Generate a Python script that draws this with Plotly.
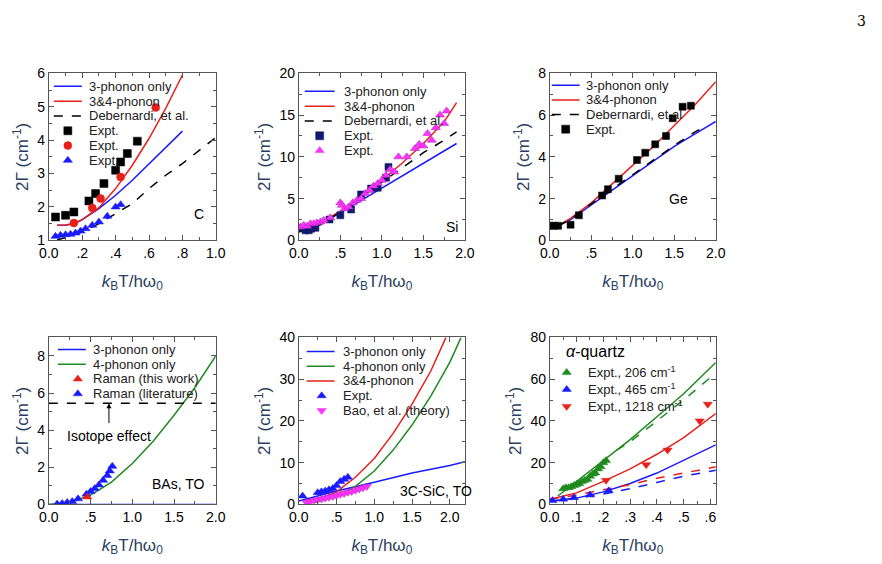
import plotly.graph_objects as go

# ---------- data ----------
# C
c_x = [0.05, 0.1, 0.15, 0.2, 0.3, 0.4, 0.5, 0.6, 0.7, 0.8]
c_3ph = [1.45, 1.46, 1.5, 1.62, 1.95, 2.35, 2.8, 3.3, 3.8, 4.27]
c_34ph = [1.45, 1.46, 1.5, 1.62, 1.98, 2.55, 3.25, 4.05, 4.95, 5.95]
c_deb_x = [0.05, 0.1, 0.2, 0.3, 0.4, 0.5, 0.6, 0.7, 0.8, 0.9, 1.0]
c_deb = [1.02, 1.08, 1.25, 1.5, 1.8, 2.1, 2.55, 2.95, 3.3, 3.7, 4.08]
c_sq_x = [0.04, 0.1, 0.15, 0.24, 0.28, 0.33, 0.40, 0.43, 0.47, 0.53]
c_sq_y = [1.7, 1.75, 1.85, 2.18, 2.4, 2.7, 3.1, 3.35, 3.6, 3.97]
c_ci_x = [0.15, 0.26, 0.31, 0.43, 0.64]
c_ci_y = [1.52, 1.97, 2.25, 2.9, 4.98]
c_tr_x = [0.04, 0.07, 0.1, 0.13, 0.16, 0.19, 0.22, 0.26, 0.3, 0.35, 0.4, 0.43]
c_tr_y = [1.12, 1.15, 1.17, 1.18, 1.22, 1.28, 1.35, 1.45, 1.55, 1.72, 2.0, 2.07]
# Si
si_x = [0, 0.25, 0.5, 0.75, 1, 1.25, 1.5, 1.75, 1.9]
si_3ph = [1.4, 2.0, 3.3, 4.8, 6.3, 7.8, 9.3, 10.8, 11.6]
si_34ph = [1.4, 2.0, 3.5, 5.2, 7.2, 9.3, 11.6, 14.2, 16.5]
si_deb = [1.0, 1.8, 3.4, 5.2, 7.0, 8.8, 10.5, 12.0, 13.0]
si_sq_x = [0.02, 0.08, 0.12, 0.15, 0.2, 0.37, 0.5, 0.63, 0.75, 0.87, 0.95, 1.05, 1.08]
si_sq_y = [1.5, 1.2, 1.2, 1.4, 1.5, 2.5, 3.0, 3.7, 5.5, 6.2, 6.3, 7.5, 8.8]
si_tr_x = [0.02, 0.06, 0.1, 0.14, 0.18, 0.22, 0.26, 0.3, 0.38, 0.5, 0.52, 0.55, 0.6, 0.65, 0.7,
           0.75, 0.8, 0.85, 0.9, 0.95, 1.0, 1.05, 1.1, 1.15, 1.2, 1.3, 1.4, 1.45, 1.5, 1.55, 1.6,
           1.65, 1.7, 1.75, 1.78]
si_tr_y = [1.6, 1.8, 1.7, 2.0, 2.0, 2.1, 2.2, 2.4, 2.7, 4.5, 4.2, 3.8, 4.0, 4.5, 4.8, 5.0, 5.6,
           6.0, 6.5, 6.8, 7.2, 7.8, 8.5, 8.2, 10.0, 10.0, 11.0, 11.5, 11.3, 12.8, 12.0, 13.5,
           15.0, 14.0, 15.5]
# Ge
ge_x = [0.1, 0.25, 0.5, 0.75, 1, 1.25, 1.5, 1.75, 2]
ge_3ph = [0.7, 1.0, 1.7, 2.4, 3.1, 3.8, 4.5, 5.1, 5.7]
ge_34ph = [0.7, 1.05, 1.8, 2.7, 3.6, 4.5, 5.5, 6.5, 7.6]
ge_deb_x = [0.1, 0.25, 0.5, 0.75, 1, 1.25, 1.5, 1.75, 1.85]
ge_deb = [0.7, 1.0, 1.75, 2.45, 3.15, 3.85, 4.55, 5.2, 5.4]
ge_sq_x = [0.0, 0.05, 0.1, 0.25, 0.35, 0.63, 0.7, 0.83, 1.05, 1.15, 1.27, 1.4, 1.48, 1.6, 1.7]
ge_sq_y = [0.7, 0.7, 0.7, 0.75, 1.2, 2.15, 2.45, 2.95, 3.85, 4.2, 4.6, 5.0, 5.85, 6.4, 6.45]
# BAs
bas_x = [0, 0.25, 0.5, 0.75, 1, 1.25, 1.5, 1.75, 2]
bas_3ph = [0, 0, 0, 0, 0, 0, 0, 0, 0]
bas_4ph = [0, 0.1, 0.5, 1.2, 2.2, 3.4, 4.8, 6.3, 8.0]
bas_iso_x = [0, 2]
bas_iso = [5.45, 5.45]
bas_red_x = [0.46]
bas_red_y = [0.4]
bas_tr_x = [0.1, 0.16, 0.22, 0.28, 0.35, 0.45, 0.5, 0.55, 0.6, 0.65, 0.7, 0.73, 0.76]
bas_tr_y = [0.02, 0.05, 0.1, 0.15, 0.3, 0.55, 0.7, 0.85, 1.05, 1.3, 1.55, 1.8, 2.05]
# 3C-SiC
sic_3_x = [0, 0.5, 1, 1.5, 2, 2.2]
sic_3 = [0.8, 3.2, 5.3, 7.5, 9.3, 10.2]
sic_34_x = [0.1, 0.3, 0.5, 0.75, 1, 1.25, 1.5, 1.75, 1.95]
sic_34 = [1, 1.5, 3, 6.5, 11, 17, 24, 32, 40]
sic_4_x = [0.2, 0.5, 0.75, 1, 1.25, 1.5, 1.75, 2, 2.15]
sic_4 = [0.5, 1.8, 4.3, 8, 13, 19, 26, 34, 40]
sic_tr_x = [0.05, 0.25, 0.3, 0.35, 0.4, 0.45, 0.5, 0.55, 0.6, 0.65]
sic_tr_y = [2, 2.8, 3, 3.2, 3.5, 3.8, 4.5, 5.5, 6, 6.5]
sic_bao_x = [0.1, 0.15, 0.2, 0.25, 0.3, 0.35, 0.4, 0.45, 0.5, 0.55, 0.6, 0.65, 0.7, 0.75, 0.8, 0.85, 0.9]
sic_bao_y = [0.5, 0.7, 0.9, 1.1, 1.3, 1.5, 1.7, 1.9, 2.1, 2.4, 2.6, 2.9, 3.1, 3.4, 3.7, 4.0, 4.3]
# alpha-quartz
q_x = [0, 0.1, 0.2, 0.3, 0.4, 0.5, 0.62]
q_g_x = [0.03, 0.1, 0.2, 0.3, 0.4, 0.5, 0.62]
q_g = [4, 11, 21, 31, 42, 53, 68]
q_gd_x = [0.25, 0.3, 0.4, 0.5, 0.62]
q_gd = [26, 30, 40, 50, 63]
q_r = [2.5, 5.5, 11, 17, 24, 32, 43.5]
q_b = [1.5, 3, 6, 10, 15, 21, 28.5]
q_rd = [2.5, 4.5, 7, 9.5, 12.5, 15, 18]
q_bd = [1.5, 3, 5, 7.5, 10.5, 13.5, 16.3]
q_g_ex_x = [0.05, 0.06, 0.07, 0.08, 0.09, 0.1, 0.11, 0.12, 0.13, 0.14, 0.15, 0.16, 0.17, 0.18, 0.19, 0.2, 0.21]
q_g_ex_y = [7.5, 8, 8, 8.5, 9, 9.5, 10, 11, 11.5, 12, 13.5, 14.5, 15, 17, 18, 20, 21]
q_b_ex_x = [0.01, 0.05, 0.09, 0.15, 0.22]
q_b_ex_y = [1.8, 2.5, 3.2, 4.5, 6.5]
q_r_ex_x = [0.21, 0.36, 0.44, 0.56, 0.59]
q_r_ex_y = [11.5, 19, 26, 40, 48]

BLUE, RED, GREEN, MAG, NAVY = "#1a1aff", "#e8201a", "#1f8a1f", "#ff33ff", "#0d1a6e"
FONT = "Liberation Sans, Arial, sans-serif"

# legend entries per panel: (kind, color, style, label)
leg = {
    1: [("line", BLUE, "solid", "3-phonon only"), ("line", RED, "solid", "3&4-phonon"),
        ("line", "black", "dash", "Debernardi, et al."), ("mk", "black", "square", "Expt."),
        ("mk", RED, "circle", "Expt."), ("mk", BLUE, "triangle-up", "Expt.")],
    2: [("line", BLUE, "solid", "3-phonon only"), ("line", RED, "solid", "3&4-phonon"),
        ("line", "black", "dash", "Debernardi, et al."), ("mk", NAVY, "square", "Expt."),
        ("mk", MAG, "triangle-up", "Expt.")],
    3: [("line", BLUE, "solid", "3-phonon only"), ("line", RED, "solid", "3&4-phonon"),
        ("line", "black", "dash", "Debernardi, et al"), ("mk", "black", "square", "Expt.")],
    4: [("line", BLUE, "solid", "3-phonon only"), ("line", GREEN, "solid", "4-phonon only"),
        ("mk", RED, "triangle-up", "Raman (this work)"), ("mk", BLUE, "triangle-up", "Raman (literature)")],
    5: [("line", BLUE, "solid", "3-phonon only"), ("line", GREEN, "solid", "4-phonon only"),
        ("line", RED, "solid", "3&4-phonon"), ("mk", BLUE, "triangle-up", "Expt."),
        ("mk", MAG, "triangle-down", "Bao, et al. (theory)")],
    6: [("mk", GREEN, "triangle-up", "Expt., 206 cm<sup>-1</sup>"),
        ("mk", BLUE, "triangle-up", "Expt., 465 cm<sup>-1</sup>"),
        ("mk", RED, "triangle-down", "Expt., 1218 cm<sup>-1</sup>")],
}
# legend geometry in panel pixels: first row y, spacing, line x0, x1, marker x, text x
leg_geo = {1: (13, 14.8, 5, 33, 19, 38), 2: (18, 14.8, 6, 36, 21, 43), 3: (12, 14.6, 2, 30, 16, 34),
           4: (12, 14.8, 9, 37, 29, 42), 5: (14, 14.8, 8, 36, 23, 42), 6: (35, 17, 8, 8, 17, 36)}

fig = go.Figure()

xd = [[0.0463, 0.2356], [0.3297, 0.518], [0.6143, 0.8025]]
yd = [[0.588, 0.8841], [0.1199, 0.416]]

def an(i):
    return "" if i == 1 else str(i)

def line(i, x, y, color, dash="solid"):
    fig.add_trace(go.Scatter(x=x, y=y, mode="lines", line=dict(color=color, width=1.5, dash=dash),
                             showlegend=False, xaxis="x" + an(i), yaxis="y" + an(i)))

def pts(i, x, y, color, symbol, size=8, lc=None):
    fig.add_trace(go.Scatter(x=x, y=y, mode="markers",
                             marker=dict(color=color, symbol=symbol, size=size,
                                         line=dict(color=lc or color, width=0.5)),
                             showlegend=False, xaxis="x" + an(i), yaxis="y" + an(i)))

# panel 1: C
line(1, c_x, c_3ph, BLUE); line(1, c_x, c_34ph, RED); line(1, c_deb_x, c_deb, "black", "dash")
pts(1, c_sq_x, c_sq_y, "black", "square"); pts(1, c_ci_x, c_ci_y, RED, "circle")
pts(1, c_tr_x, c_tr_y, BLUE, "triangle-up")
# panel 2: Si
line(2, si_x, si_3ph, BLUE); line(2, si_x, si_34ph, RED); line(2, si_x, si_deb, "black", "dash")
pts(2, si_sq_x, si_sq_y, NAVY, "square", size=7)
pts(2, si_tr_x, si_tr_y, MAG, "triangle-up", lc="#aa22aa")
# panel 3: Ge
line(3, ge_x, ge_3ph, BLUE); line(3, ge_x, ge_34ph, RED); line(3, ge_deb_x, ge_deb, "black", "dash")
pts(3, ge_sq_x, ge_sq_y, "black", "square", size=7)
# panel 4: BAs
line(4, bas_x, bas_3ph, BLUE); line(4, bas_x, bas_4ph, GREEN); line(4, bas_iso_x, bas_iso, "black", "dash")
pts(4, bas_tr_x, bas_tr_y, BLUE, "triangle-up"); pts(4, bas_red_x, bas_red_y, RED, "triangle-up")
# panel 5: SiC
line(5, sic_3_x, sic_3, BLUE); line(5, sic_4_x, sic_4, GREEN); line(5, sic_34_x, sic_34, RED)
pts(5, sic_tr_x, sic_tr_y, BLUE, "triangle-up")
pts(5, sic_bao_x, sic_bao_y, MAG, "triangle-down", lc="#aa22aa")
# panel 6: quartz
line(6, q_g_x, q_g, GREEN); line(6, q_gd_x, q_gd, GREEN, "dash")
line(6, q_x, q_r, RED); line(6, q_x, q_b, BLUE)
line(6, q_x, q_rd, RED, "dash"); line(6, q_x, q_bd, BLUE, "dash")
pts(6, q_g_ex_x, q_g_ex_y, GREEN, "triangle-up"); pts(6, q_b_ex_x, q_b_ex_y, BLUE, "triangle-up")
pts(6, q_r_ex_x, q_r_ex_y, RED, "triangle-down")

# axes
xcfg = [
    ([0, 1.0], [0, .2, .4, .6, .8, 1.0], ["0.0", ".2", ".4", ".6", ".8", "1.0"], 0.1),
    ([0, 2.0], [0, .5, 1, 1.5, 2], ["0.0", ".5", "1.0", "1.5", "2.0"], 0.25),
    ([0, 2.0], [0, .5, 1, 1.5, 2], ["0.0", ".5", "1.0", "1.5", "2.0"], 0.25),
    ([0, 2.0], [0, .5, 1, 1.5, 2], ["0.0", ".5", "1.0", "1.5", "2.0"], 0.25),
    ([0, 2.2], [0, .5, 1, 1.5, 2], ["0.0", ".5", "1.0", "1.5", "2.0"], 0.25),
    ([0, 0.62], [0, .1, .2, .3, .4, .5, .6], ["0.0", ".1", ".2", ".3", ".4", ".5", ".6"], 0.05),
]
ycfg = [([1, 6], 1, 0.5), ([0, 20], 5, 2.5), ([0, 8], 2, 1), ([0, 9], 2, 1), ([0, 40], 10, 5), ([0, 80], 20, 10)]

tf = dict(family=FONT, size=14, color="black")
for i in range(1, 7):
    r = (i - 1) // 3
    c = (i - 1) % 3
    xr, tv, tt, mn = xcfg[i - 1]
    yr, dt, ymn = ycfg[i - 1]
    common = dict(showline=True, linecolor="#555", linewidth=1, mirror="ticks", ticks="inside",
                  ticklen=5, tickcolor="#555", showgrid=False, zeroline=False, tickfont=tf,
                  automargin=False)
    fig.layout["xaxis" + an(i)] = dict(domain=xd[c], range=xr, tickvals=tv, ticktext=tt,
        minor=dict(ticks="inside", ticklen=3, dtick=mn, tick0=0, tickcolor="#555"),
        anchor="y" + an(i),
        title=dict(text="<i>k</i><sub>B</sub>T/hω<sub>0</sub>", font=dict(family=FONT, size=17), standoff=14),
        **common)
    fig.layout["yaxis" + an(i)] = dict(domain=yd[r], range=yr, dtick=dt, tick0=0,
        minor=dict(ticks="inside", ticklen=3, dtick=ymn, tick0=0, tickcolor="#555"),
        anchor="x" + an(i),
        title=dict(text="2Γ (cm<sup>-1</sup>)", font=dict(family=FONT, size=17), standoff=4),
        **common)
    # overlay axis in panel pixel units for the legend
    k = i + 6
    fig.layout["xaxis" + str(k)] = dict(domain=xd[c], range=[0, 167], visible=False,
                                         anchor="y" + str(k), fixedrange=True, automargin=False)
    fig.layout["yaxis" + str(k)] = dict(domain=yd[r], range=[167, 0], visible=False,
                                         anchor="x" + str(k), fixedrange=True, automargin=False)
    y0, dy, lx0, lx1, mx, tx = leg_geo[i]
    for j, (kind, col, sty, lab) in enumerate(leg[i]):
        yy = y0 + j * dy
        if kind == "line":
            fig.add_trace(go.Scatter(x=[lx0, lx1], y=[yy, yy], mode="lines", showlegend=False,
                                     line=dict(color=col, width=1.5, dash=sty), hoverinfo="skip",
                                     xaxis="x" + str(k), yaxis="y" + str(k)))
        else:
            fig.add_trace(go.Scatter(x=[mx], y=[yy], mode="markers", showlegend=False, hoverinfo="skip",
                                     marker=dict(color=col, symbol=sty, size=8, line=dict(color=col, width=0.5)),
                                     xaxis="x" + str(k), yaxis="y" + str(k)))
        fig.add_annotation(x=tx, y=yy, xref="x" + str(k), yref="y" + str(k), text=lab,
                           showarrow=False, xanchor="left", yanchor="middle",
                           font=dict(family=FONT, size=13, color="#222"))

ann = [
    dict(x=0.9, y=1.8, xref="x", yref="y", text="C"),
    dict(x=1.85, y=1.6, xref="x2", yref="y2", text="Si"),
    dict(x=1.55, y=2.0, xref="x3", yref="y3", text="Ge"),
    dict(x=1.55, y=1.1, xref="x4", yref="y4", text="BAs, TO"),
    dict(x=1.82, y=3.2, xref="x5", yref="y5", text="3C-SiC, TO"),
    dict(x=0.72, y=3.7, xref="x4", yref="y4", text="Isotope effect"),
    dict(x=0.17, y=73, xref="x6", yref="y6", text="<i>α</i>-quartz", font=dict(family=FONT, size=16, color="black")),
]
for a in ann:
    a.setdefault("font", dict(family=FONT, size=14, color="black"))
    fig.add_annotation(showarrow=False, **a)
fig.add_annotation(x=0.72, y=5.45, ax=0.72, ay=4.3, xref="x4", yref="y4", axref="x4", ayref="y4",
                   text="", showarrow=True, arrowhead=2, arrowwidth=1, arrowcolor="black")
fig.add_annotation(x=0.975, y=0.995, xref="paper", yref="paper", yanchor="top", text="3",
                   showarrow=False, font=dict(family="DejaVu Serif", size=14, color="black"))

fig.update_layout(width=882, height=564, margin=dict(l=0, r=0, t=0, b=0),
                  paper_bgcolor="white", plot_bgcolor="rgba(0,0,0,0)")
fig.write_html("out.html")
